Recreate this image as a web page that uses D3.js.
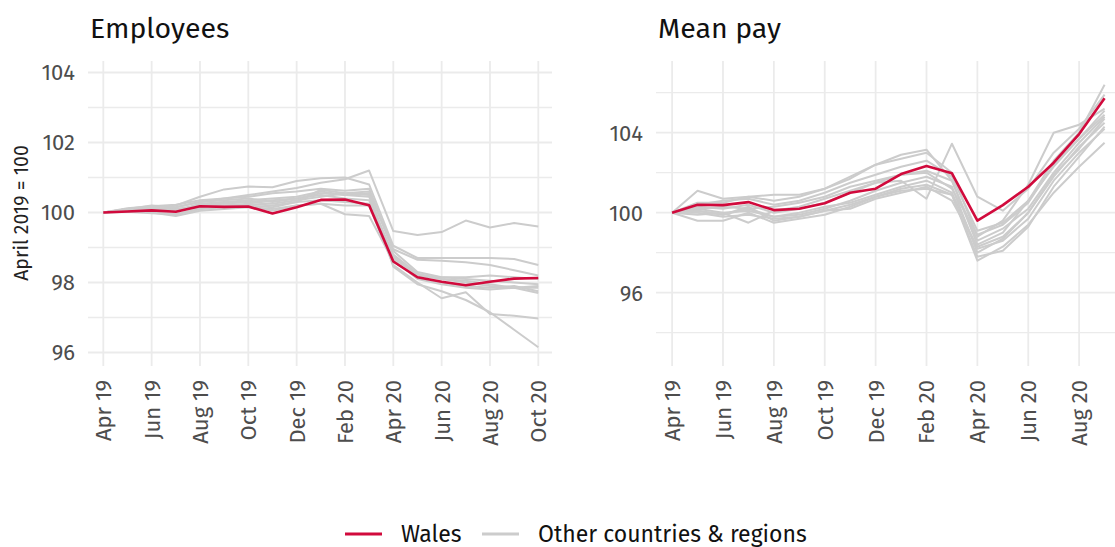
<!DOCTYPE html>
<html>
<head>
<meta charset="utf-8">
<script src="https://cdn.jsdelivr.net/npm/d3@7"></script>
<style>
  body { margin: 0; background: #fff; }
  svg { display: block; font-family: "Fira Sans", "Noto Sans", "Open Sans", sans-serif; }
</style>
</head>
<body>
<svg id="chart" width="1115" height="547"></svg>
<script>
// months (index 0 = Apr 19)
var monthLabels = ["Apr 19","May 19","Jun 19","Jul 19","Aug 19","Sep 19","Oct 19","Nov 19","Dec 19",
  "Jan 20","Feb 20","Mar 20","Apr 20","May 20","Jun 20","Jul 20","Aug 20","Sep 20","Oct 20"];
var tickMonthsEmp = [0,2,4,6,8,10,12,14,16,18];
var tickMonthsPay = [0,2,4,6,8,10,12,14,16];

// Employees, April 2019 = 100 (Apr 19 .. Oct 20)
var walesEmployees = [100,100.03,100.06,100.02,100.18,100.16,100.17,99.97,100.15,100.36,100.37,100.21,98.6,98.15,98.02,97.92,98.02,98.11,98.13];
var otherEmployees = [
  [100,100.05,100.1,100.15,100.3,100.4,100.5,100.6,100.7,100.85,100.95,101.2,99.47,99.36,99.44,99.77,99.57,99.7,99.6],
  [100,100.1,100.15,100.2,100.45,100.66,100.74,100.72,100.9,100.98,101.0,100.8,99.05,98.7,98.7,98.7,98.7,98.67,98.5],
  [100,100.12,100.18,100.22,100.35,100.4,100.45,100.55,100.6,100.68,100.62,100.68,98.95,98.65,98.62,98.58,98.5,98.35,98.2],
  [100,100.08,100.12,100.1,100.2,100.3,100.35,100.4,100.45,100.6,100.5,100.55,98.45,97.95,97.75,97.5,97.15,96.65,96.15],
  [100,100.05,100.0,99.9,100.05,100.1,100.15,100.1,100.2,100.25,100.2,100.2,98.5,98.0,97.55,97.72,97.1,97.05,96.97],
  [100,100.1,100.15,100.05,100.25,100.3,100.3,100.35,100.4,100.55,100.5,100.45,98.7,98.2,98.15,98.15,98.2,98.15,98.1],
  [100,100.05,100.0,99.95,100.1,100.15,100.2,100.05,100.2,100.25,99.95,99.9,98.6,98.15,98.0,97.9,97.85,97.9,97.75],
  [100,100.1,100.2,100.15,100.3,100.35,100.4,100.3,100.4,100.5,100.4,100.35,98.8,98.25,98.1,98.05,97.95,97.85,97.7],
  [100,100.05,100.1,100.05,100.15,100.2,100.2,100.15,100.3,100.35,100.3,100.25,98.75,98.2,98.1,98.0,97.9,97.85,97.85],
  [100,100.08,100.12,100.08,100.2,100.25,100.3,100.25,100.35,100.45,100.55,100.6,98.9,98.3,98.15,98.1,98.05,98.0,97.95],
  [100,100.02,99.98,99.95,100.1,100.2,100.25,100.2,100.3,100.65,100.55,100.5,98.65,98.1,97.95,97.85,97.8,97.85,97.9]
];

// Mean pay, April 2019 = 100 (Apr 19 .. Sep 20)
var walesPay = [100,100.4,100.38,100.53,100.13,100.2,100.47,101.0,101.2,101.93,102.33,101.97,99.6,100.38,101.3,102.5,103.93,105.72];
var otherPay = [
  [100,101.1,100.7,100.8,100.9,100.9,101.2,101.8,102.4,102.7,103.0,102.0,98.8,99.6,101.4,104.0,104.4,105.2],
  [100,99.6,99.6,100.0,99.5,99.7,99.9,100.3,100.8,101.1,101.2,100.9,97.6,98.3,99.4,101.0,102.3,103.5],
  [100,100.5,100.5,100.8,100.6,100.8,101.2,101.7,102.4,102.9,103.15,101.6,98.4,99.0,100.6,102.6,104.0,106.4],
  [100,100.2,100.0,99.5,100.1,100.3,100.7,101.1,101.5,101.6,100.7,103.45,100.8,100.1,101.2,103.0,104.2,105.9],
  [100,100.1,99.9,100.2,99.8,99.9,100.2,100.6,101.1,101.5,101.8,101.3,98.0,98.7,100.0,101.8,103.3,104.5],
  [100,100.3,100.2,100.4,100.0,100.2,100.5,101.0,101.5,101.9,102.1,101.6,98.6,99.2,100.2,102.0,103.5,104.8],
  [100,99.9,100.0,100.1,99.8,100.0,100.3,100.5,100.9,101.3,101.6,101.0,98.2,98.6,99.7,101.6,103.0,104.2],
  [100,100.2,100.3,100.2,100.3,100.5,100.8,101.3,101.6,101.9,102.0,101.2,98.9,99.4,100.5,102.4,103.7,104.9],
  [100,100.0,99.8,99.9,99.7,99.8,100.1,100.4,100.8,101.2,101.4,100.9,97.8,98.1,99.3,101.3,102.8,104.3],
  [100,100.4,100.6,100.7,100.4,100.6,101.0,101.5,101.9,102.3,102.6,101.8,99.1,99.5,100.6,102.3,103.7,105.1],
  [100,100.1,99.9,100.3,99.6,99.8,100.1,100.2,100.7,101.0,101.3,100.6,98.3,98.8,100.0,101.9,103.2,104.7]
];

var yTicksEmp = [96,98,100,102,104];
var yGridEmp = [96,97,98,99,100,101,102,103,104];
var yTicksPay = [96,100,104];
var yGridPay = [94,96,98,100,102,104,106];

var color = { wales: "#d10a3c", other: "#cccccc", grid: "#ebebeb", text: "#4d4d4d", title: "#111" };

var svg = d3.select("#chart");

function panel(opt) {
  var x = d3.scaleLinear().domain(opt.xDomain).range([opt.left, opt.right]);
  var y = d3.scaleLinear().domain(opt.yDomain).range([366, 61]);
  var g = svg.append("g");

  // grid
  g.selectAll(".hgrid").data(opt.yGrid).enter().append("line")
    .attr("x1", opt.left).attr("x2", opt.right)
    .attr("y1", function(d){ return y(d); }).attr("y2", function(d){ return y(d); })
    .attr("stroke", color.grid)
    .attr("stroke-width", function(d){ return opt.yTicks.indexOf(d) >= 0 ? 1.8 : 1.3; });
  g.selectAll(".vgrid").data(opt.xTicks).enter().append("line")
    .attr("x1", function(d){ return x(d); }).attr("x2", function(d){ return x(d); })
    .attr("y1", 61).attr("y2", 366)
    .attr("stroke", color.grid).attr("stroke-width", 1.8);

  // y tick labels
  g.selectAll(".ylab").data(opt.yTicks).enter().append("text")
    .attr("x", opt.left - 13).attr("y", function(d){ return y(d); })
    .attr("dy", "0.36em").attr("text-anchor", "end")
    .attr("font-size", 22).attr("fill", color.text)
    .text(function(d){ return d; });

  // x tick labels, rotated
  g.selectAll(".xlab").data(opt.xTicks).enter().append("text")
    .attr("transform", function(d){ return "translate(" + x(d) + ",380) rotate(-90)"; })
    .attr("dy", "0.36em").attr("text-anchor", "end")
    .attr("font-size", 22).attr("fill", color.text)
    .text(function(d){ return monthLabels[d]; });

  // title
  g.append("text").attr("x", opt.left + 2).attr("y", 38)
    .attr("font-size", 28.5).attr("fill", color.title)
    .text(opt.title);

  var line = d3.line().x(function(d, i){ return x(i); }).y(function(d){ return y(d); });

  g.selectAll(".other").data(opt.others).enter().append("path")
    .attr("d", line).attr("fill", "none")
    .attr("stroke", color.other).attr("stroke-width", 2)
    .attr("stroke-linejoin", "round");
  g.append("path").attr("d", line(opt.wales)).attr("fill", "none")
    .attr("stroke", color.wales).attr("stroke-width", 2.6)
    .attr("stroke-linejoin", "round");
}

panel({ title: "Employees", left: 88, right: 552, xDomain: [-0.633, 18.567], yDomain: [95.614, 104.329],
  xTicks: tickMonthsEmp, yTicks: yTicksEmp, yGrid: yGridEmp, wales: walesEmployees, others: otherEmployees });
panel({ title: "Mean pay", left: 656, right: 1119, xDomain: [-0.633, 17.567], yDomain: [92.335, 107.585],
  xTicks: tickMonthsPay, yTicks: yTicksPay, yGrid: yGridPay, wales: walesPay, others: otherPay });

// y axis title
svg.append("text")
  .attr("transform", "translate(28,213) rotate(-90)")
  .attr("text-anchor", "middle").attr("font-size", 19.5).attr("fill", "#222")
  .text("April 2019 = 100");

// legend
var legend = [
  { label: "Wales", col: color.wales, x: 345, w: 2.8 },
  { label: "Other countries & regions", col: color.other, x: 482, w: 2.8 }
];
legend.forEach(function(d){
  svg.append("line").attr("x1", d.x).attr("x2", d.x + 37).attr("y1", 534).attr("y2", 534)
    .attr("stroke", d.col).attr("stroke-width", d.w);
  svg.append("text").attr("x", d.x + 56).attr("y", 534).attr("dy", "0.36em")
    .attr("font-size", 23).attr("fill", "#111").text(d.label);
});
</script>
</body>
</html>
